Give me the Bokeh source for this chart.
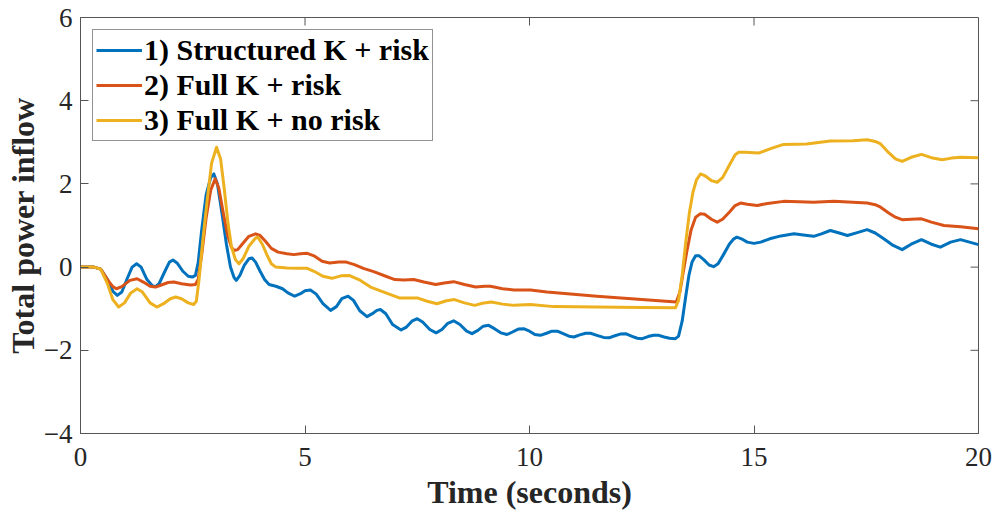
import math
from bokeh.plotting import figure
from bokeh.models import Range1d, FixedTicker, Legend, LegendItem
from bokeh.embed import file_html
from bokeh.resources import INLINE

# 1) Structured K + risk: time (s) and total power inflow
t_structured = [0, 0.3, 0.45, 0.6, 0.72, 0.82, 0.92, 1.05, 1.15, 1.25, 1.35, 1.48, 1.6, 1.67, 1.75,
                1.88, 1.98, 2.06, 2.15, 2.28, 2.4, 2.49, 2.56, 2.62, 2.7, 2.8, 2.9, 2.97, 3.05,
                3.15, 3.25, 3.34, 3.42, 3.47, 3.55, 3.65, 3.75, 3.82, 3.9, 4.0, 4.1, 4.2, 4.35,
                4.5, 4.62, 4.77, 4.9, 5.0, 5.12, 5.25, 5.4, 5.57, 5.7, 5.82, 5.96, 6.08, 6.22,
                6.38, 6.5, 6.6, 6.68, 6.8, 6.95, 7.14, 7.25, 7.38, 7.5, 7.62, 7.78, 7.92, 8.05,
                8.18, 8.31, 8.45, 8.6, 8.72, 8.85, 8.97, 9.09, 9.22, 9.36, 9.5, 9.62, 9.75, 9.87,
                10.0, 10.12, 10.24, 10.38, 10.5, 10.62, 10.75, 10.88, 10.99, 11.12, 11.25, 11.36,
                11.5, 11.65, 11.77, 11.9, 12.02, 12.14, 12.27, 12.4, 12.51, 12.64, 12.76, 12.88,
                13.0, 13.12, 13.25, 13.32, 13.4, 13.48, 13.55, 13.62, 13.7, 13.78, 13.88, 14.0,
                14.1, 14.2, 14.32, 14.45, 14.55, 14.62, 14.72, 14.85, 15.0, 15.15, 15.35, 15.6,
                15.89, 16.1, 16.33, 16.5, 16.7, 16.9, 17.08, 17.3, 17.52, 17.7, 17.89, 18.1, 18.3,
                18.5, 18.73, 18.95, 19.15, 19.38, 19.6, 19.8, 20.0]
p_structured = [0, 0, -0.05, -0.3, -0.58, -0.68, -0.6, -0.25, 0.0, 0.08, 0.0, -0.3, -0.45, -0.47,
                -0.4, -0.1, 0.12, 0.17, 0.1, -0.1, -0.22, -0.24, -0.2, 0.1, 0.9, 1.75, 2.15, 2.24,
                2.0, 1.3, 0.55, 0.0, -0.25, -0.32, -0.2, 0.05, 0.2, 0.22, 0.12, -0.1, -0.3, -0.42,
                -0.46, -0.52, -0.62, -0.7, -0.64, -0.57, -0.55, -0.65, -0.88, -1.04, -0.95, -0.76,
                -0.7, -0.8, -1.05, -1.19, -1.12, -1.04, -1.02, -1.12, -1.38, -1.51, -1.45, -1.3,
                -1.24, -1.32, -1.5, -1.58, -1.5, -1.35, -1.29, -1.38, -1.54, -1.6, -1.52, -1.42,
                -1.4, -1.48, -1.58, -1.62, -1.56, -1.49, -1.48, -1.54, -1.62, -1.64, -1.59, -1.54,
                -1.54, -1.6, -1.66, -1.68, -1.63, -1.59, -1.59, -1.64, -1.69, -1.7, -1.65, -1.61,
                -1.6, -1.66, -1.71, -1.72, -1.67, -1.64, -1.64, -1.68, -1.71, -1.72, -1.66, -1.3,
                -0.7, -0.2, 0.12, 0.27, 0.27, 0.18, 0.05, 0.01, 0.08, 0.3, 0.55, 0.68, 0.72, 0.68,
                0.6, 0.57, 0.6, 0.68, 0.75, 0.8, 0.77, 0.74, 0.8, 0.88, 0.82, 0.76, 0.83, 0.9,
                0.82, 0.68, 0.52, 0.42, 0.55, 0.66, 0.55, 0.48, 0.6, 0.66, 0.6, 0.54]

# 2) Full K + risk
t_full_risk = [0, 0.3, 0.45, 0.6, 0.72, 0.8, 0.92, 1.1, 1.26, 1.4, 1.55, 1.67, 1.8, 1.95, 2.08,
               2.25, 2.45, 2.56, 2.62, 2.7, 2.8, 2.9, 3.0, 3.08, 3.18, 3.28, 3.36, 3.42, 3.5, 3.6,
               3.75, 3.9, 4.0, 4.12, 4.25, 4.4, 4.6, 4.75, 4.9, 5.05, 5.2, 5.38, 5.55, 5.75, 5.92,
               6.1, 6.3, 6.53, 6.8, 7.0, 7.2, 7.42, 7.65, 7.91, 8.1, 8.31, 8.55, 8.8, 9.0, 9.13,
               9.4, 9.65, 10.02, 10.39, 11.5, 12.5, 13.27, 13.35, 13.42, 13.5, 13.6, 13.7, 13.8,
               13.9, 14.05, 14.18, 14.3, 14.45, 14.58, 14.7, 14.85, 15.07, 15.3, 15.66, 16.0,
               16.33, 16.78, 17.2, 17.52, 17.7, 17.82, 18.0, 18.15, 18.3, 18.5, 18.73, 18.95,
               19.23, 19.6, 20.0]
p_full_risk = [0, 0, -0.05, -0.3, -0.47, -0.52, -0.47, -0.32, -0.28, -0.36, -0.46, -0.48, -0.43,
               -0.37, -0.36, -0.4, -0.43, -0.42, -0.3, 0.3, 1.2, 1.85, 2.12, 1.9, 1.3, 0.75, 0.48,
               0.4, 0.42, 0.55, 0.74, 0.8, 0.76, 0.62, 0.45, 0.36, 0.32, 0.3, 0.32, 0.33, 0.27,
               0.14, 0.1, 0.12, 0.12, 0.06, -0.03, -0.11, -0.22, -0.3, -0.31, -0.3, -0.36, -0.42,
               -0.38, -0.35, -0.42, -0.48, -0.46, -0.46, -0.52, -0.55, -0.55, -0.6, -0.7, -0.78,
               -0.84, -0.6, -0.15, 0.35, 0.9, 1.2, 1.28, 1.27, 1.15, 1.08, 1.15, 1.32, 1.48, 1.54,
               1.51, 1.48, 1.53, 1.58, 1.57, 1.56, 1.58, 1.56, 1.54, 1.5, 1.44, 1.3, 1.2, 1.14,
               1.15, 1.16, 1.08, 1.0, 0.97, 0.92]

# 3) Full K + no risk
t_full_norisk = [0, 0.3, 0.45, 0.6, 0.72, 0.85, 0.98, 1.12, 1.26, 1.38, 1.55, 1.7, 1.85, 2.0, 2.12,
                 2.25, 2.4, 2.52, 2.58, 2.64, 2.72, 2.82, 2.92, 3.03, 3.12, 3.2, 3.28, 3.36, 3.45,
                 3.53, 3.62, 3.75, 3.9, 3.95, 4.05, 4.15, 4.25, 4.35, 4.6, 4.85, 5.05, 5.2, 5.4,
                 5.6, 5.8, 5.98, 6.2, 6.46, 6.8, 7.1, 7.3, 7.5, 7.72, 7.94, 8.15, 8.33, 8.55, 8.78,
                 8.95, 9.15, 9.4, 9.65, 10.02, 10.54, 11.5, 12.5, 13.25, 13.32, 13.4, 13.48, 13.56,
                 13.64, 13.72, 13.81, 13.9, 14.05, 14.18, 14.3, 14.45, 14.58, 14.66, 14.8, 15.1,
                 15.4, 15.66, 16.17, 16.7, 17.2, 17.52, 17.7, 17.82, 18.0, 18.15, 18.3, 18.5,
                 18.73, 18.95, 19.19, 19.4, 19.6, 20.0]
p_full_norisk = [0, 0, -0.05, -0.4, -0.78, -0.96, -0.86, -0.62, -0.52, -0.6, -0.86, -0.96, -0.88,
                 -0.76, -0.72, -0.76, -0.86, -0.9, -0.82, -0.3, 0.6, 1.6, 2.5, 2.88, 2.6, 1.9, 1.1,
                 0.5, 0.18, 0.08, 0.2, 0.5, 0.7, 0.72, 0.55, 0.3, 0.08, 0.0, -0.02, -0.03, -0.03,
                 -0.1, -0.22, -0.27, -0.21, -0.2, -0.3, -0.48, -0.62, -0.74, -0.74, -0.74, -0.82,
                 -0.88, -0.81, -0.78, -0.86, -0.92, -0.87, -0.84, -0.89, -0.92, -0.9, -0.95, -0.96,
                 -0.97, -0.98, -0.8, -0.2, 0.6, 1.3, 1.8, 2.1, 2.24, 2.2, 2.08, 2.04, 2.15, 2.45,
                 2.7, 2.76, 2.76, 2.74, 2.86, 2.95, 2.96, 3.03, 3.04, 3.06, 3.02, 2.96, 2.75, 2.6,
                 2.54, 2.64, 2.71, 2.63, 2.58, 2.62, 2.64, 2.63]

series_labels = ["1) Structured K + risk", "2) Full K + risk", "3) Full K + no risk"]
series_colors = ["#0072BD", "#D95319", "#EDB120"]

x_ticks = [0, 5, 10, 15, 20]
y_ticks = [-4, -2, 0, 2, 4, 6]

SERIF = "Liberation Serif"
FRAME = "#555555"
TEXT = "#262626"

p = figure(width=998, height=521, output_backend="svg", toolbar_location=None,
           x_range=Range1d(x_ticks[0], x_ticks[-1]), y_range=Range1d(y_ticks[0], y_ticks[-1]),
           min_border_left=80, min_border_right=20, min_border_top=17, min_border_bottom=88)
p.background_fill_color = "white"
p.border_fill_color = "white"
p.outline_line_color = FRAME
p.outline_line_width = 1
p.xgrid.visible = False
p.ygrid.visible = False

renderers = []
for xs, ys, c in [(t_structured, p_structured, series_colors[0]),
                  (t_full_risk, p_full_risk, series_colors[1]),
                  (t_full_norisk, p_full_norisk, series_colors[2])]:
    renderers.append(p.line(xs, ys, line_color=c, line_width=3, line_join="round"))

for ax, ticks in [(p.xaxis[0], x_ticks), (p.yaxis[0], y_ticks)]:
    ax.ticker = FixedTicker(ticks=ticks)
    ax.major_tick_in = 8
    ax.major_tick_out = 0
    ax.minor_tick_in = 0
    ax.minor_tick_out = 0
    ax.major_tick_line_color = FRAME
    ax.axis_line_color = FRAME
    ax.major_label_text_font = SERIF
    ax.major_label_text_font_size = "27px"
    ax.major_label_text_color = TEXT
    ax.axis_label_text_font = SERIF
    ax.axis_label_text_font_style = "bold"
    ax.axis_label_text_font_size = "32px"
    ax.axis_label_text_color = TEXT

p.xaxis[0].axis_label = "Time (seconds)"
p.xaxis[0].major_label_standoff = 14
p.xaxis[0].axis_label_standoff = 5
p.yaxis[0].axis_label = "Total power inflow"
p.yaxis[0].major_label_standoff = 8
p.yaxis[0].axis_label_standoff = 0

# mirrored inward tick marks along the top and right edges of the box
# (dash markers centred on the edge; the frame clips the outer half)
inner_x = x_ticks[1:-1]
inner_y = y_ticks[1:-1]
p.scatter(inner_x, [y_ticks[-1]] * len(inner_x), marker="dash", size=16, angle=math.pi / 2,
          line_color=FRAME, line_width=1)
p.scatter([x_ticks[-1]] * len(inner_y), inner_y, marker="dash", size=16,
          line_color=FRAME, line_width=1)

legend = Legend(items=[LegendItem(label=lab, renderers=[r]) for lab, r in zip(series_labels, renderers)],
                location="top_left", margin=12, padding=3, spacing=1,
                glyph_width=46, glyph_height=30, label_height=30, label_standoff=2,
                label_text_font=SERIF, label_text_font_style="bold",
                label_text_font_size="30px", label_text_color="black",
                border_line_color=TEXT, border_line_width=1,
                background_fill_color="white", background_fill_alpha=1.0)
p.add_layout(legend, "center")

open("out.html", "w").write(file_html(p, INLINE))
